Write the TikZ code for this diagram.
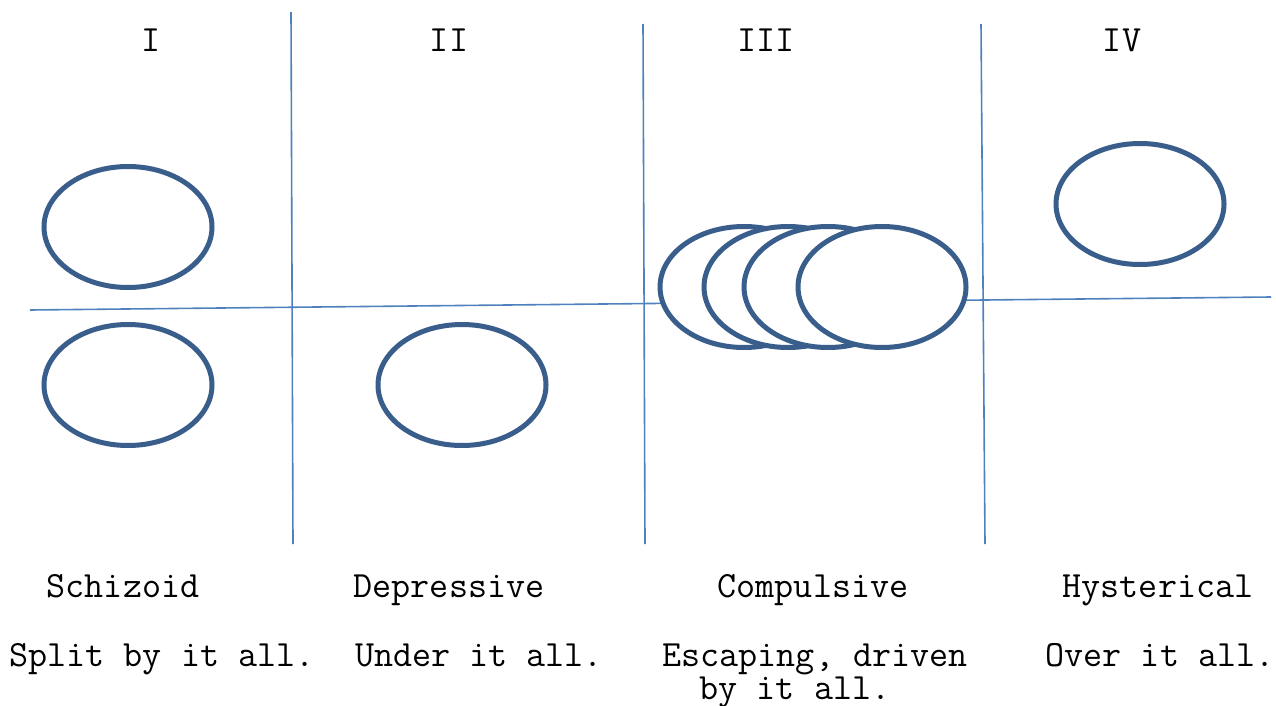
\documentclass[tikz,border=0pt]{standalone}
\usetikzlibrary{shapes.geometric}
\definecolor{ringc}{HTML}{3A5E8C}
\definecolor{linec}{HTML}{4F81BD}
\begin{document}
\begin{tikzpicture}[x=1pt,y=-1pt,
  ring/.style={ellipse,draw=ringc,line width=5pt,fill=white,inner sep=0pt,minimum width=168pt,minimum height=121pt},
  divider/.style={draw=linec,line width=1.6pt},
  lbl/.style={anchor=base,inner sep=0pt,font=\ttfamily\fontsize{37}{41}\selectfont}]
\useasboundingbox (0,0) rectangle (1276,706);
% dividers
\coordinate (v1t) at (291,12);  \coordinate (v1b) at (293,544);
\coordinate (v2t) at (643,24);  \coordinate (v2b) at (645,544);
\coordinate (v3t) at (981,24);  \coordinate (v3b) at (985,544);
\coordinate (hl) at (30,310);   \coordinate (hr) at (1271,297);
\draw[divider] (v1t) -- (v1b);
\draw[divider] (v2t) -- (v2b);
\draw[divider] (v3t) -- (v3b);
\draw[divider] (hl) -- (hr);
% ellipses
\node[ring] (e1a) at (128,227) {};
\node[ring] (e1b) at (128,385) {};
\node[ring] (e2) at (462,385) {};
\node[ring] (e3a) at (744,287) {};
\node[ring] (e3b) at (788,287) {};
\node[ring] (e3c) at (828,287) {};
\node[ring] (e3d) at (882,287) {};
\node[ring] (e4) at (1140,204) {};
% headings
\node[lbl] (n1) at (151,52) {I};
\node[lbl] (n2) at (449,52) {II};
\node[lbl] (n3) at (766,52) {III};
\node[lbl] (n4) at (1122,52) {IV};
% names
\node[lbl] (t1) at (123,597) {Schizoid};
\node[lbl] (t2) at (449,597) {Depressive};
\node[lbl] (t3) at (813,597) {Compulsive};
\node[lbl] (t4) at (1158,597) {Hysterical};
% descriptions
\node[lbl] (d1) at (162,666) {Split by it all.};
\node[lbl] (d2) at (479,666) {Under it all.};
\node[lbl] (d3) at (815,666) {Escaping, driven};
\node[lbl] (d3b) at (795,699) {by it all.};
\node[lbl] (d4) at (1160,666) {Over it all.};
\end{tikzpicture}
\end{document}
